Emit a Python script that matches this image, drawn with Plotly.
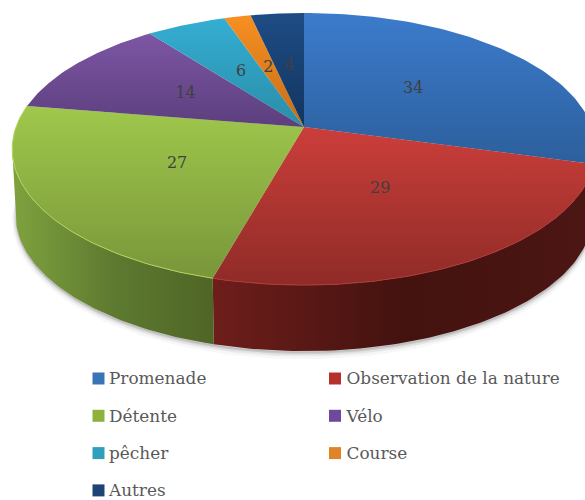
import numpy as np
import plotly.graph_objects as go

categories = ["Promenade", "Observation de la nature", "Détente", "Vélo", "pêcher", "Course", "Autres"]
values = [34, 29, 27, 14, 6, 2, 4]
top_colors = [
    ["#3C7BCC", "#2C5F9C"], ["#CB3E3A", "#8F2B27"], ["#9FC84C", "#79963A"],
    ["#7D56A4", "#5C3F7E"], ["#34AED2", "#2A8DA8"], ["#F88F22", "#C46E18"], ["#1D4C84", "#133560"],
]
wall_colors = [
    ["#2A5A90", "#1E4470"], ["#6E1E1B", "#43120F", "#4C1613"], ["#7FA23E", "#5E7A30", "#4F6526"],
    ["#4A3366", "#4A3366"], ["#22738A", "#22738A"], ["#A05A14", "#A05A14"], ["#102C50", "#102C50"],
]
legend_colors = ["#3A74B8", "#B8302E", "#8FB03C", "#6E4A9C", "#2FA0BC", "#E0842A", "#1D4474"]
rim_colors = [None, "#B03A36", "#B0D65C", None, None, None, None]

# Perspective view of the pie disc
CX, CY, A, B, K = 304, 127, 288, 132.5, 0.162
DEPTH = 66
BOTTOM_SCALE = 0.988


def project(theta, r=1.0):
    X, Y = r * np.sin(theta), -r * np.cos(theta)
    d = 1 - K * Y
    return CX + A * X / d, CY + B * Y / d


edges = np.cumsum([0] + values) / sum(values) * 2 * np.pi
fig = go.Figure()

# soft shadow under the disc
tt = np.linspace(0, 2 * np.pi, 720)
sx, sy = project(tt)
for grow, alpha in [(4.5, 0.05), (3, 0.08), (1.5, 0.12)]:
    fig.add_trace(go.Scatter(
        x=CX + (sx - CX) * BOTTOM_SCALE, y=sy + DEPTH + grow,
        mode="lines", line=dict(width=grow * 1.6, color=f"rgba(90,90,90,{alpha})"),
        fill="toself", fillcolor=f"rgba(90,90,90,{alpha})", hoverinfo="skip", showlegend=False,
    ))

# side walls: only the front part of the rim, between the disc's right and left extremes
front_start, front_end = tt[np.argmax(sx)], tt[np.argmin(sx)]
for i in range(len(values)):
    lo, hi = max(edges[i], front_start), min(edges[i + 1], front_end)
    if hi <= lo:
        continue
    t = np.linspace(lo, hi, 80)
    x, y = project(t)
    xb = CX + (x - CX) * BOTTOM_SCALE
    yb = y + DEPTH
    cols = wall_colors[i]
    scale = [[j / (len(cols) - 1), c] for j, c in enumerate(cols)]
    fig.add_trace(go.Scatter(
        x=np.r_[x, xb[::-1]], y=np.r_[y, yb[::-1]], mode="lines", line=dict(width=0),
        fill="toself", fillgradient=dict(type="horizontal", colorscale=scale),
        hoverinfo="skip", showlegend=False,
    ))

# top faces, rims and value labels
for i, name in enumerate(categories):
    t = np.linspace(edges[i], edges[i + 1], 80)
    x, y = project(t)
    fig.add_trace(go.Scatter(
        x=np.r_[CX, x, CX], y=np.r_[CY, y, CY], mode="lines", line=dict(width=0),
        fill="toself",
        fillgradient=dict(type="vertical", colorscale=[[0, top_colors[i][1]], [1, top_colors[i][0]]]),
        name=name, showlegend=False,
    ))
    if rim_colors[i]:
        fig.add_trace(go.Scatter(
            x=x, y=y, mode="lines", line=dict(width=1, color=rim_colors[i]),
            hoverinfo="skip", showlegend=False,
        ))

mid = (edges[:-1] + edges[1:]) / 2
lx, ly = project(mid, 0.5)
fig.add_trace(go.Scatter(
    x=lx, y=ly, mode="text", text=[str(v) for v in values],
    textfont=dict(family="DejaVu Serif", size=16, color="#404040"),
    hoverinfo="skip", showlegend=False,
))

# legend, two columns
for i, name in enumerate(categories):
    col, row = i % 2, i // 2
    fig.add_trace(go.Scatter(
        x=[98.5 + col * 236.5], y=[378.5 + row * 37.3], mode="markers",
        marker=dict(symbol="square", size=12, color=legend_colors[i]),
        hoverinfo="skip", showlegend=False, cliponaxis=False,
    ))
    fig.add_trace(go.Scatter(
        x=[109 + col * 237.5], y=[380 + row * 37.3], mode="text",
        text=[name], textposition="middle right",
        textfont=dict(family="DejaVu Serif", size=16.9, color="#595959"),
        hoverinfo="skip", showlegend=False, cliponaxis=False,
    ))

fig.update_layout(
    width=585, height=500, margin=dict(l=0, r=0, t=0, b=0),
    paper_bgcolor="white", plot_bgcolor="white", showlegend=False,
    xaxis=dict(range=[0, 585], visible=False, fixedrange=True),
    yaxis=dict(range=[500, 0], visible=False, fixedrange=True),
)
fig.write_html("out.html", config=dict(displayModeBar=False),
               post_script="document.body.style.margin='0';document.documentElement.style.overflow='hidden';")
